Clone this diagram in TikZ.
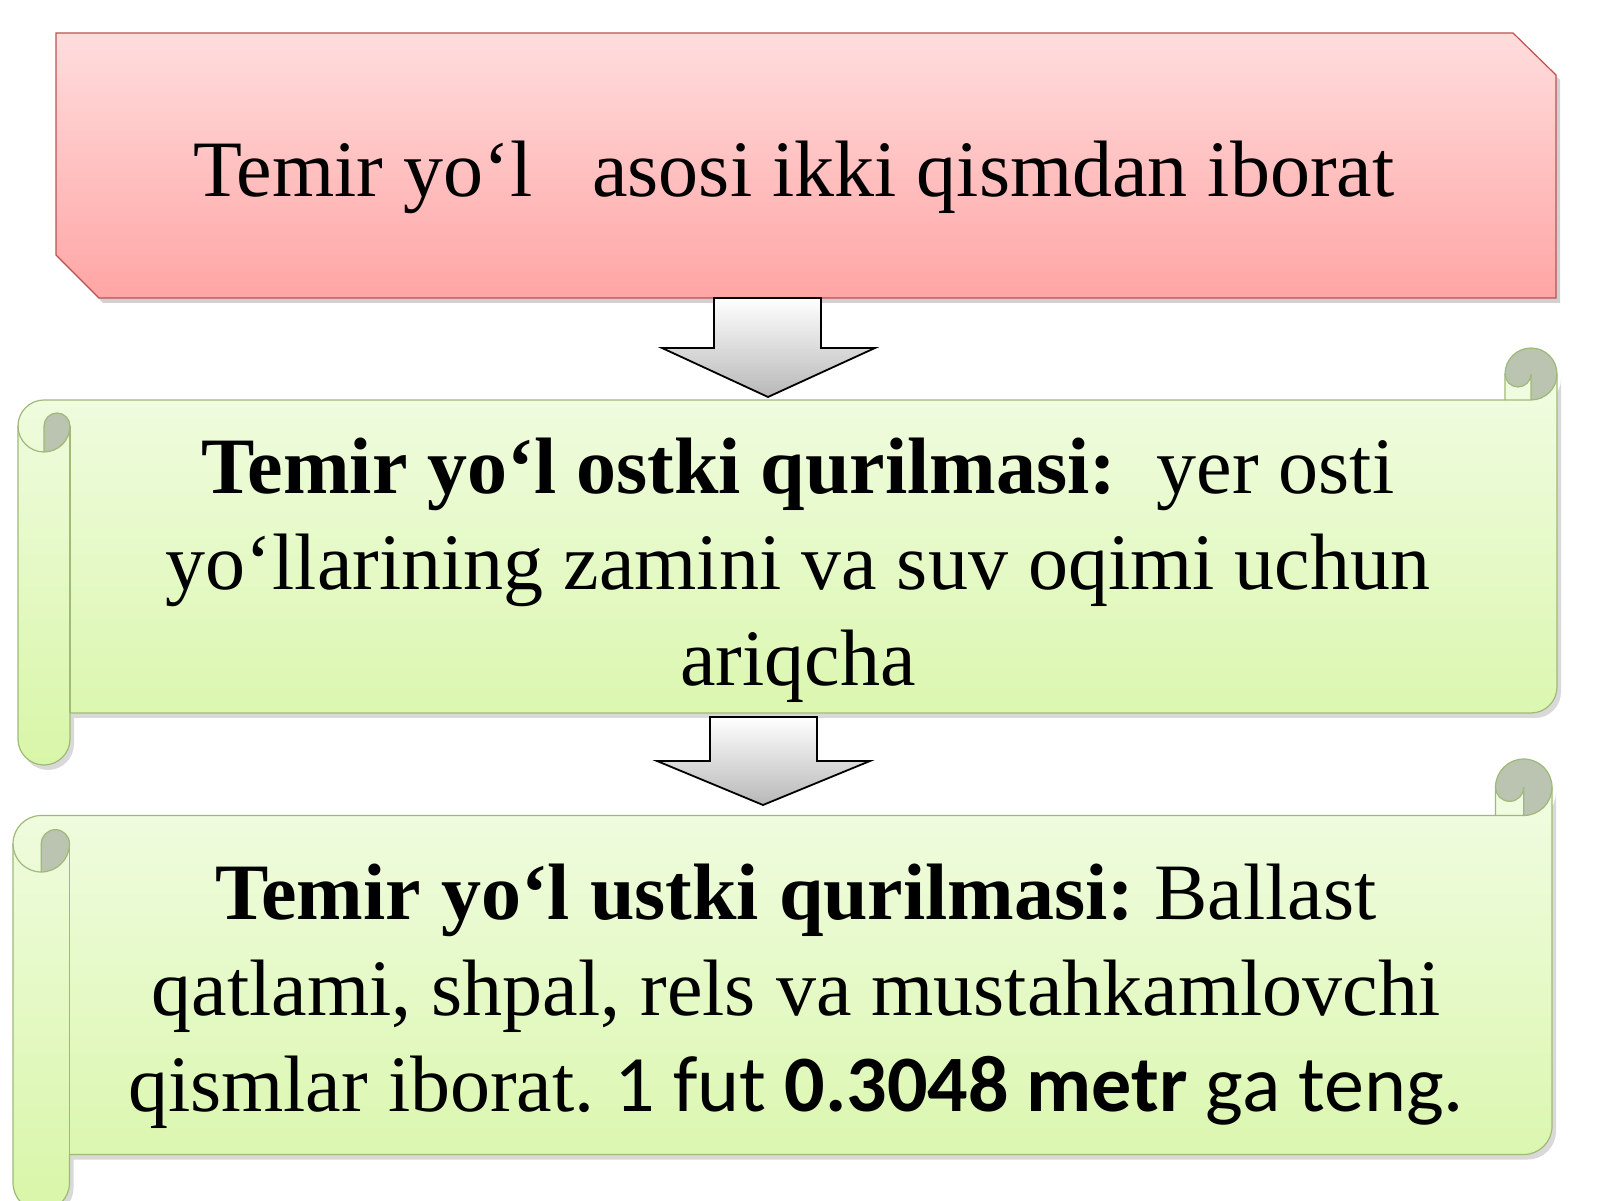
\documentclass[tikz,border=0pt]{standalone}
\usepackage{fontspec}
\setmainfont{Liberation Serif}
\newfontfamily\calibri{Carlito}
\usetikzlibrary{shadows}
\frenchspacing

\definecolor{pinktop}{RGB}{255,221,221}
\definecolor{pinkbot}{RGB}{255,165,165}
\definecolor{pinkline}{RGB}{190,80,80}
\definecolor{greentop}{RGB}{241,252,226}
\definecolor{greenbot}{RGB}{216,246,168}
\definecolor{greenline}{RGB}{160,185,120}
\definecolor{curlgray}{RGB}{186,196,176}

% l, r, top, bottom, roll width
\newcommand{\drawscroll}[5]{%
 \pgfmathsetmacro\scL{#1}\pgfmathsetmacro\scR{#2}%
 \pgfmathsetmacro\scT{#3}\pgfmathsetmacro\scD{#4}%
 \pgfmathsetmacro\scA{#5}\pgfmathsetmacro\scB{#5/2}\pgfmathsetmacro\scC{#5/4}%
 \path[scrollfill] (\scR,\scT-\scB) arc (0:-90:\scB) -- (\scR-\scB,\scT-\scB) arc (0:-180:\scC)
   -- (\scR-\scA,\scT-\scA) -- (\scL+\scB,\scT-\scA) arc (90:180:\scB)
   -- (\scL,\scD+\scB) arc (-180:0:\scB) -- (\scL+\scA,\scD+\scA)
   -- (\scR-\scB,\scD+\scA) arc (-90:0:\scB) -- cycle;
 \fill[curlgray] (\scL+\scB,\scT-2*\scA) arc (-90:0:\scB) arc (0:180:\scC) -- cycle;
 \fill[curlgray] (\scR-\scB,\scT-\scA) arc (-90:180:\scB) arc (-180:0:\scC) -- cycle;
 \draw[scrollline] (\scL,\scT-1.5*\scA) arc (180:90:\scB) -- (\scR-\scA,\scT-\scA) -- (\scR-\scA,\scT-\scB)
   arc (180:0:\scB) -- (\scR,\scD+1.5*\scA) arc (0:-90:\scB) -- (\scL+\scA,\scD+\scA)
   -- (\scL+\scA,\scD+\scB) arc (0:-180:\scB) -- cycle;
 \draw[scrollline] (\scR-\scA,\scT-\scA) -- (\scR-\scB,\scT-\scA) arc (-90:0:\scB);
 \draw[scrollline] (\scR-\scB,\scT-\scA) -- (\scR-\scB,\scT-\scB) arc (0:-180:\scC);
 \draw[scrollline] (\scL+\scB,\scT-2*\scA) -- (\scL+\scB,\scT-1.5*\scA) arc (180:0:\scC) arc (0:-180:\scB);
 \draw[scrollline] (\scL+\scA,\scT-1.5*\scA) -- (\scL+\scA,\scD+\scA);
}

\begin{document}
\begin{tikzpicture}[x=0.5pt,y=0.5pt]
 \tikzstyle{plate}=[draw=pinkline,line width=0.6pt,top color=pinktop,bottom color=pinkbot,
   drop shadow={shadow xshift=2pt,shadow yshift=-2.5pt,fill=black,opacity=0.18}]
 \tikzstyle{scrollfill}=[top color=greentop,bottom color=greenbot,
   drop shadow={shadow xshift=2pt,shadow yshift=-2.5pt,fill=black,opacity=0.15}]
 \tikzstyle{scrollline}=[draw=greenline,line width=0.6pt]
 \tikzstyle{blockarrow}=[draw=black,line width=0.9pt,top color=white,bottom color=black!28]
 \tikzstyle{label}=[align=center,inner sep=0pt,font=\fontsize{40}{48}\selectfont]

 \useasboundingbox (0,0) rectangle (1600,1200);
 \clip (0,0) rectangle (1600,1200);
 \fill[white] (0,0) rectangle (1600,1200);

 % title plate
 \draw[plate] (56,1167) -- (1513,1167) -- (1556,1125) -- (1556,902) -- (99,902) -- (56,945) -- cycle;
 \node[label,anchor=base] (title) at (794,1003) {Temir yo‘l\ \ \ asosi ikki qismdan iborat};

 % scrolls
 \drawscroll{18}{1557}{852}{435}{52}
 \drawscroll{13}{1552}{441}{-11}{56.5}

 % block arrows
 \draw[blockarrow] (714,902) -- (821,902) -- (821,852) -- (875,852) -- (768,803) -- (662,852) -- (714,852) -- cycle;
 \draw[blockarrow] (710,483) -- (817,483) -- (817,439) -- (870,439) -- (763,395) -- (657,439) -- (710,439) -- cycle;

 \node[label] (ostki) at (798,630) {\textbf{Temir yo‘l ostki qurilmasi:}\ \ yer osti\\
   yo‘llarining zamini va suv oqimi uchun\\ ariqcha};
 \node[label] (ustki) at (796,204) {\textbf{Temir yo‘l ustki qurilmasi:} Ballast\\
   qatlami, shpal, rels va mustahkamlovchi\\
   qismlar iborat. {\calibri 1 fut \textbf{0.3048 metr} ga teng.}};
\end{tikzpicture}
\end{document}
